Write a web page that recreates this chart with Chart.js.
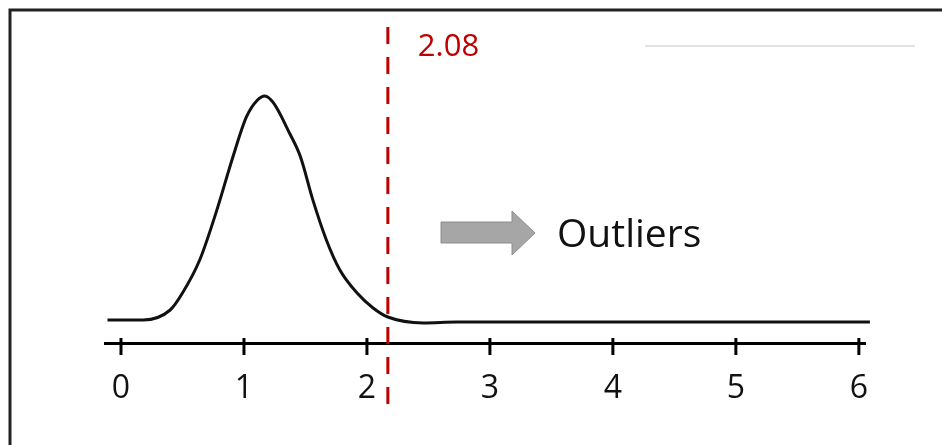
<!DOCTYPE html>
<html>
<head>
<meta charset="utf-8">
<script src="https://cdn.jsdelivr.net/npm/chart.js@4.4.1/dist/chart.umd.min.js"></script>
<style>
  html, body { margin: 0; padding: 0; background: #fff; }
</style>
</head>
<body>
<canvas id="densityChart" width="942" height="445"></canvas>
<script>
// density curve (position on the axis, relative height)
const curveX = [-0.11, 0.18, 0.40, 0.50, 0.64, 0.78, 0.91, 1.02, 1.11, 1.17, 1.24, 1.37, 1.46, 1.56, 1.67, 1.78, 1.92, 2.05, 2.17, 2.46, 2.73, 3.16, 6.09];
const curveY = [0.009, 0.009, 0.053, 0.128, 0.274, 0.496, 0.730, 0.907, 0.982, 1.0, 0.969, 0.836, 0.730, 0.540, 0.363, 0.230, 0.128, 0.062, 0.022, -0.004, 0, 0, 0];
const tickValues = [0, 1, 2, 3, 4, 5, 6];
const cutoffLabel = '2.08';
const cutoffAt = 2.17;          // where the dashed line sits on this axis
const cutoffSpan = [1.305, -0.389];
const outlierText = 'Outliers';

const FONT = '"Open Sans", "DejaVu Sans", sans-serif';

const decor = {
    id: 'decor',
    afterDraw(chart) {
        const ctx = chart.ctx;
        const xs = chart.scales.x;
        const axisY = chart.chartArea.bottom;
        ctx.save();

        // frame (top + left edge only)
        ctx.strokeStyle = '#222';
        ctx.lineWidth = 3;
        ctx.beginPath();
        ctx.moveTo(942, 10);
        ctx.lineTo(10, 10);
        ctx.lineTo(10, 445);
        ctx.stroke();

        // faint line top right
        ctx.strokeStyle = '#d9d9d9';
        ctx.lineWidth = 1.5;
        ctx.beginPath();
        ctx.moveTo(645, 46);
        ctx.lineTo(915, 46);
        ctx.stroke();

        // tick marks crossing the axis
        ctx.strokeStyle = '#000';
        ctx.lineWidth = 3;
        xs.ticks.forEach(t => {
            const px = xs.getPixelForValue(t.value);
            ctx.beginPath();
            ctx.moveTo(px, axisY - 5);
            ctx.lineTo(px, axisY + 12);
            ctx.stroke();
        });

        // cutoff label
        ctx.fillStyle = '#c00000';
        ctx.font = '31px ' + FONT;
        ctx.textBaseline = 'alphabetic';
        ctx.fillText(cutoffLabel, xs.getPixelForValue(cutoffAt) + 30, 56);

        // arrow
        ctx.fillStyle = '#a6a6a6';
        ctx.strokeStyle = '#8c8c8c';
        ctx.lineWidth = 1;
        ctx.beginPath();
        ctx.moveTo(441, 222);
        ctx.lineTo(512, 222);
        ctx.lineTo(512, 211);
        ctx.lineTo(535, 233);
        ctx.lineTo(512, 255);
        ctx.lineTo(512, 243);
        ctx.lineTo(441, 243);
        ctx.closePath();
        ctx.fill();
        ctx.stroke();

        ctx.fillStyle = '#111';
        ctx.font = '39px ' + FONT;
        ctx.fillText(outlierText, 557, 247);
        ctx.restore();
    }
};

new Chart(document.getElementById('densityChart'), {
    type: 'line',
    data: {
        datasets: [{
            data: curveX.map((x, i) => ({ x: x, y: curveY[i] })),
            borderColor: '#111',
            borderWidth: 3,
            pointRadius: 0,
            tension: 0.4,
            cubicInterpolationMode: 'monotone',
            clip: false
        }, {
            data: cutoffSpan.map(y => ({ x: cutoffAt, y: y })),
            borderColor: '#c00000',
            borderWidth: 3,
            borderDash: [17, 13],
            pointRadius: 0,
            clip: false
        }]
    },
    options: {
        responsive: false,
        animation: false,
        events: [],
        layout: { padding: { left: 105, right: 77, top: 20, bottom: 0 } },
        plugins: { legend: { display: false }, tooltip: { enabled: false } },
        scales: {
            x: {
                type: 'linear',
                min: -0.13,
                max: 6.05,
                afterBuildTicks: s => { s.ticks = tickValues.map(v => ({ value: v })); },
                afterFit: s => { s.height = 102; },
                grid: { display: false, drawTicks: false },
                border: { display: true, color: '#000', width: 3 },
                ticks: {
                    color: '#111',
                    padding: 27,
                    maxRotation: 0,
                    font: { family: FONT, size: 32 }
                }
            },
            y: {
                display: false,
                min: -0.093,
                max: 1.336
            }
        }
    },
    plugins: [decor]
});
</script>
</body>
</html>
